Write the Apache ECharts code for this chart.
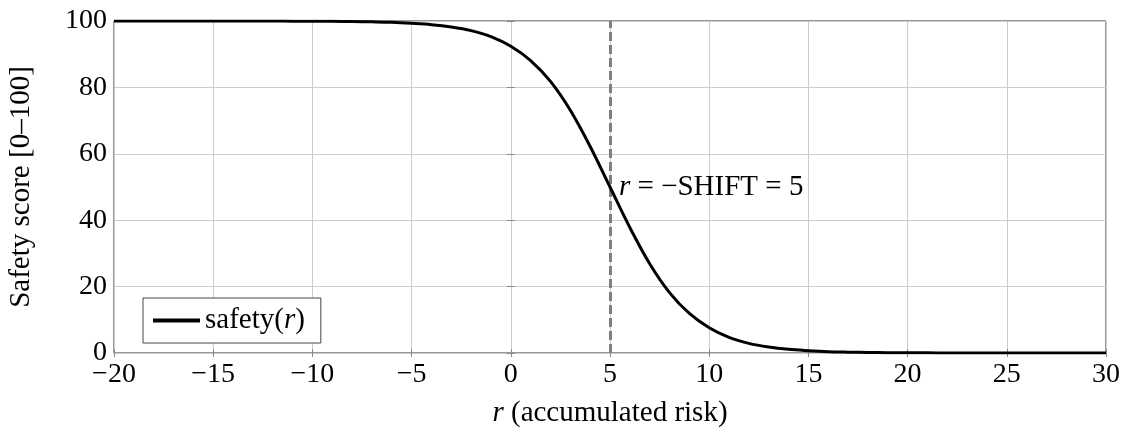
<!DOCTYPE html>
<html>
<head>
<meta charset="utf-8">
<script src="https://cdn.jsdelivr.net/npm/echarts@6/dist/echarts.min.js"></script>
<style>
html,body{margin:0;padding:0;background:#fff;}
#chart{width:1126px;height:434px;}
</style>
</head>
<body>
<div id="chart"></div>
<script>
// Data
const rValues = [-20,-19,-18,-17,-16,-15,-14,-13,-12,-11,-10,-9,-8,-7,-6,-5,-4,-3,-2,-1,0,1,2,3,4,5,6,7,8,9,10,11,12,13,14,15,16,17,18,19,20,21,22,23,24,25,26,27,28,29,30];
const safetyValues = [100,100,100,100,100,100,99.99,99.98,99.97,99.96,99.94,99.9,99.85,99.75,99.6,99.3,98.9,98.2,97.1,95.3,92.4,88.1,81.8,73.1,62.2,50,37.8,26.9,18.2,11.9,7.6,4.7,2.9,1.8,1.1,0.7,0.4,0.25,0.15,0.1,0.06,0.04,0.02,0.01,0,0,0,0,0,0,0];
const shiftValue = 5;
const annotationY = 50;
const xTicks = [-20,-15,-10,-5,0,5,10,15,20,25,30];
const yTicks = [0,20,40,60,80,100];

const FONT = 'Liberation Serif';
const fmtMinus = v => v < 0 ? '\u2212' + Math.abs(v) : String(v);

const chart = echarts.init(document.getElementById('chart'), null, {renderer: 'canvas'});
const pts = rValues.map((r, i) => [r, safetyValues[i]]);

const baseX = {
  type: 'value', min: xTicks[0], max: xTicks[xTicks.length-1], interval: 5,
  axisLine: {show: false},
  axisTick: {show: true, inside: true, length: 4, lineStyle: {color: '#888', width: 1}},
  splitLine: {show: false},
  axisLabel: {show: false}
};
const baseY = {
  type: 'value', min: yTicks[0], max: yTicks[yTicks.length-1], interval: 20,
  axisLine: {show: false},
  axisTick: {show: true, inside: true, length: 4, lineStyle: {color: '#888', width: 1}},
  splitLine: {show: false},
  axisLabel: {show: false}
};

chart.setOption({
  animation: false,
  backgroundColor: '#fff',
  grid: {left: 114, right: 20, top: 21, bottom: 81, containLabel: false, outerBoundsMode: 'none',
         show: true, borderColor: '#333', borderWidth: 1, backgroundColor: 'transparent'},
  xAxis: [
    Object.assign({}, baseX, {
      position: 'bottom',
      splitLine: {show: true, lineStyle: {color: '#cccccc', width: 1}},
      axisLabel: {show: true, formatter: fmtMinus, fontFamily: FONT, fontSize: 28, color: '#000', margin: 8},
      name: '{i|r} (accumulated risk)',
      nameLocation: 'middle', nameGap: 46,
      nameTextStyle: {fontFamily: FONT, fontSize: 29, color: '#000',
        rich: {i: {fontFamily: FONT, fontSize: 29, fontStyle: 'italic', color: '#000'}}}
    }),
    Object.assign({}, baseX, {position: 'top'})
  ],
  yAxis: [
    Object.assign({}, baseY, {
      position: 'left',
      splitLine: {show: true, lineStyle: {color: '#cccccc', width: 1}},
      axisLabel: {show: true, formatter: fmtMinus, fontFamily: FONT, fontSize: 28, color: '#000', margin: 7},
      name: 'Safety score [0\u2013100]',
      nameLocation: 'middle', nameGap: 78, nameRotate: 90,
      nameTextStyle: {fontFamily: FONT, fontSize: 29, color: '#000'}
    }),
    Object.assign({}, baseY, {position: 'right'})
  ],
  legend: {
    show: true,
    left: 143, top: 298,
    orient: 'vertical',
    backgroundColor: '#fff',
    borderColor: '#444', borderWidth: 1,
    padding: [8, 16, 8, 10],
    itemWidth: 47, itemHeight: 4, itemGap: 8,
    icon: 'rect',
    data: [{name: 'safety', icon: 'rect'}],
    formatter: () => '{a|safety(}{i|r}{a|)}',
    textStyle: {
      fontFamily: FONT, fontSize: 29, color: '#000',
      rich: {
        a: {fontFamily: FONT, fontSize: 29, color: '#000'},
        i: {fontFamily: FONT, fontSize: 29, fontStyle: 'italic', color: '#000'}
      }
    }
  },
  series: [
    {
      name: 'safety',
      type: 'line',
      data: pts,
      xAxisIndex: 0, yAxisIndex: 0,
      showSymbol: false,
      smooth: 0.35,
      lineStyle: {color: '#000', width: 3},
      itemStyle: {color: '#000'},
      z: 5,
      markLine: {
        silent: true,
        symbol: ['none', 'none'],
        label: {show: false},
        lineStyle: {color: '#808080', width: 3, type: [9, 4]},
        data: [{xAxis: shiftValue}],
        z: 4
      },
      markPoint: {
        silent: true,
        symbol: 'circle', symbolSize: 0,
        data: [{coord: [shiftValue, annotationY]}],
        label: {
          show: true, position: 'right', distance: 9,
          formatter: () => '{i|r} = \u2212SHIFT = ' + shiftValue,
          fontFamily: FONT, fontSize: 29, color: '#000',
          rich: {i: {fontFamily: FONT, fontSize: 29, fontStyle: 'italic', color: '#000'}}
        }
      }
    }
  ]
});
</script>
</body>
</html>
